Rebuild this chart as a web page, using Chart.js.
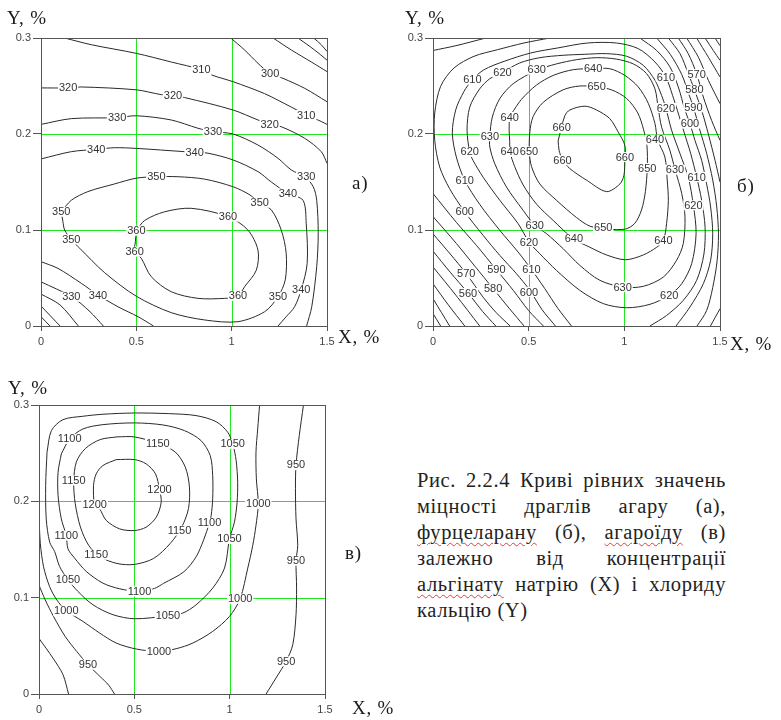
<!DOCTYPE html>
<html><head><meta charset="utf-8">
<script src="https://cdn.jsdelivr.net/npm/chart.js@4.4.1/dist/chart.umd.min.js"></script>
<style>
html,body{margin:0;padding:0;background:#fff;width:781px;height:720px;overflow:hidden;}
canvas{position:absolute;}
.t{position:absolute;font-family:"Liberation Serif","Times New Roman",serif;font-size:19px;line-height:19px;color:#1a1a1a;white-space:nowrap;letter-spacing:0.8px;}
#cap{position:absolute;left:417px;top:467px;width:309px;font-family:"Liberation Serif","Times New Roman",serif;font-size:20.5px;line-height:26px;color:#222;letter-spacing:0.6px;}
#cap .j{text-align:justify;text-align-last:justify;white-space:nowrap;}
.sp{text-decoration:underline wavy #e04040;text-decoration-thickness:1px;text-underline-offset:3px;}
</style></head><body>
<canvas id="ca" width="390" height="350" style="left:0;top:0;width:390px;height:350px"></canvas>
<canvas id="cb" width="391" height="350" style="left:390px;top:0;width:391px;height:350px"></canvas>
<canvas id="cc" width="390" height="350" style="left:0;top:370px;width:390px;height:350px"></canvas>

<div class="t" style="left:7px;top:8px">Y, %</div>
<div class="t" style="left:338px;top:327px">X, %</div>
<div class="t" style="left:352px;top:173px">а)</div>
<div class="t" style="left:405px;top:8px">Y, %</div>
<div class="t" style="left:730px;top:334px">X, %</div>
<div class="t" style="left:737px;top:176px">б)</div>
<div class="t" style="left:8px;top:378px">Y, %</div>
<div class="t" style="left:352px;top:698px">X, %</div>
<div class="t" style="left:345px;top:543px">в)</div>

<div id="cap">
<div class="j">Рис. 2.2.4 Криві рівних значень</div>
<div class="j">міцності драглів агару (а),</div>
<div class="j"><span class="sp">фурцеларану</span> (б), <span class="sp">агароїду</span> (в)</div>
<div class="j">залежно від концентрації</div>
<div class="j"><span class="sp">альгінату</span> натрію (Х) і хлориду</div>
<div>кальцію (Y)</div>
</div>

<script>
// ---- axes ----
const xTicks=[0,0.5,1,1.5];
const xTickLabels=['0','0.5','1','1.5'];
const yTicks=[0,0.1,0.2,0.3];
const yTickLabels=['0','0.1','0.2','0.3'];

// ---- chart а (agar) contour lines: [X, Y] ----
const a270=[[1.43,.300],[1.47,.293],[1.50,.286]];
const a280=[[1.348,.300],[1.435,.2875],[1.50,.277]];
const a290=[[1.217,.300],[1.313,.2875],[1.418,.275],[1.50,.265]];
const a300=[[0.995,.300],[1.068,.2875],[1.138,.2736],[1.202,.263],[1.269,.258],[1.383,.2476],[1.50,.2336]];
const a310=[[0.124,.300],[0.264,.293],[0.50,.284],[0.683,.275],[0.841,.267],[0.902,.261],[1.007,.2545],[1.173,.242],[1.313,.228],[1.391,.220],[1.47,.213],[1.50,.210]];
const a320=[[0,.248],[0.142,.248],[0.211,.249],[0.50,.246],[0.631,.241],[0.692,.240],[0.753,.238],[1.007,.225],[1.138,.2146],[1.199,.210],[1.26,.2076],[1.383,.1955],[1.47,.1816],[1.50,.1695]];
const a330=[[0,.210],[0.159,.216],[0.40,.217],[0.50,.219],[0.683,.2146],[0.823,.206],[0.902,.2024],[1.007,.200],[1.138,.1885],[1.243,.1747],[1.313,.1625],[1.384,.1555],[1.428,.145],[1.446,.131],[1.454,.0965],[1.446,.0618],[1.42,.020],[1.393,0]];
const a340=[[0,.174],[0.159,.1816],[0.29,.184],[0.386,.1857],[0.50,.185],[0.753,.1816],[0.806,.181],[0.876,.180],[1.007,.173],[1.138,.1608],[1.208,.150],[1.295,.138],[1.374,.131],[1.391,.107],[1.396,.065],[1.365,.038],[1.33,.020],[1.286,.0097],[1.243,0]];
const a350=[[0.106,.119],[0.159,.131],[0.246,.140],[0.386,.148],[0.50,.154],[0.605,.1555],[0.718,.1555],[0.858,.153],[1.008,.145],[1.096,.1365],[1.147,.128],[1.208,.121],[1.26,.100],[1.286,.0757],[1.281,.048],[1.243,.0305],[1.173,.0149],[1.033,.0045],[0.858,.0063],[0.683,.0139],[0.50,.031],[0.334,.0555],[0.203,.081],[0.159,.090],[0.124,.100],[0.115,.1086],[0.106,.119]];
const a360=[[0.50,.0993],[0.544,.110],[0.649,.119],[0.788,.1226],[0.981,.1139],[1.085,.100],[1.138,.079],[1.129,.058],[1.068,.041],[1.033,.031],[0.963,.0288],[0.823,.0288],[0.683,.0357],[0.578,.0514],[0.526,.0705],[0.491,.0774],[0.495,.0878],[0.50,.0993]];
const a340b=[[0,.067],[0.089,.060],[0.211,.0445],[0.299,.0323],[0.404,.020],[0.509,.0097],[0.59,0]];
const a330b=[[0,.046],[0.161,.0305],[0.257,.0149],[0.327,0]];
const a320b=[[0,.0333],[0.10,.0219],[0.196,0]];
const a310b=[[0,.0208],[0.10,0]];
const a300b=[[0,.0097],[0.047,0]];
const aLabels=[[.841,.2667,'310'],[1.202,.2632,'300'],[.142,.2482,'320'],[.692,.2399,'320'],[1.391,.2198,'310'],[.399,.2174,'330'],[1.199,.2101,'320'],[.902,.2024,'330'],[.29,.184,'340'],[.806,.1809,'340'],[1.391,.1555,'330'],[.605,.1555,'350'],[.106,.119,'350'],[1.295,.1382,'340'],[1.147,.1284,'350'],[.981,.1139,'360'],[.50,.0993,'360'],[.159,.0903,'350'],[.491,.0774,'360'],[1.365,.0382,'340'],[.159,.0305,'330'],[.299,.0323,'340'],[1.033,.0313,'360'],[1.243,.0305,'350']];

// ---- chart б (furcellaran) contour lines ----
const b590tl=[[0,.287],[0.12,.292],[0.276,.300]];
const b600=[[0.610,.300],[0.476,.2948],[0.337,.2878],[0.215,.281],[0.110,.2688],[0.040,.2497],[0.009,.2219],[0.009,.1934],[0.035,.1656],[0.087,.143],[0.166,.1188],[0.262,.0944],[0.349,.0736],[0.436,.0545],[0.506,.0372],[0.57,.017],[0.64,0]];
const b610=[[0.724,0],[0.654,.018],[0.584,.039],[0.515,.0587],[0.445,.077],[0.349,.0997],[0.244,.1267],[0.166,.1517],[0.122,.176],[0.101,.201],[0.119,.2253],[0.162,.2444],[0.206,.2566],[0.267,.267],[0.372,.2757],[0.511,.2844],[0.651,.2896],[0.808,.2948],[0.959,.2948],[1.073,.2889],[1.160,.275],[1.217,.2594],[1.252,.2403],[1.277,.2247],[1.312,.202],[1.347,.1795],[1.378,.1552],[1.404,.131],[1.422,.103],[1.416,.075],[1.378,.0476],[1.308,.0267],[1.221,.011],[1.134,0]];
const b620=[[0.363,.264],[0.453,.274],[0.558,.2795],[0.680,.282],[0.790,.283],[0.907,.2837],[1.012,.281],[1.099,.2715],[1.160,.256],[1.195,.240],[1.217,.227],[1.247,.204],[1.291,.1795],[1.334,.155],[1.361,.1257],[1.375,.0962],[1.352,.065],[1.30,.044],[1.235,.032],[1.134,.0226],[1.012,.019],[0.890,.0233],[0.767,.0372],[0.645,.058],[0.558,.0753],[0.502,.0875],[0.445,.1066],[0.349,.131],[0.262,.155],[0.209,.1726],[0.192,.181],[0.178,.204],[0.192,.228],[0.244,.247],[0.297,.2576],[0.363,.264]];
const b630=[[0.542,.267],[0.645,.273],[0.750,.2774],[0.855,.2795],[0.959,.278],[1.047,.273],[1.116,.263],[1.160,.247],[1.177,.227],[1.195,.207],[1.238,.183],[1.265,.163],[1.30,.138],[1.317,.1135],[1.308,.0858],[1.273,.0684],[1.204,.051],[1.099,.0413],[0.991,.0406],[0.872,.0476],[0.767,.0632],[0.680,.0806],[0.593,.0962],[0.532,.1049],[0.471,.1205],[0.384,.1448],[0.323,.169],[0.297,.1865],[0.297,.198],[0.310,.2177],[0.349,.2368],[0.419,.2524],[0.542,.267]];
const b640=[[0.401,.181],[0.427,.166],[0.471,.147],[0.541,.127],[0.628,.110],[0.733,.091],[0.820,.082],[0.907,.074],[1.006,.069],[1.099,.074],[1.169,.082],[1.204,.089],[1.221,.107],[1.230,.131],[1.224,.152],[1.212,.176],[1.174,.194],[1.160,.211],[1.125,.232],[1.073,.249],[1.003,.261],[0.924,.268],[0.837,.268],[0.733,.267],[0.628,.261],[0.541,.251],[0.462,.236],[0.410,.221],[0.401,.218],[0.398,.204],[0.401,.192],[0.401,.181]];
const b650=[[0.502,.181],[0.506,.202],[0.523,.218],[0.576,.233],[0.680,.246],[0.767,.250],[0.855,.249],[0.933,.246],[1.012,.237],[1.07,.222],[1.10,.205],[1.118,.188],[1.12,.165],[1.11,.140],[1.09,.121],[1.055,.107],[1.006,.101],[0.907,.101],[0.820,.104],[0.750,.113],[0.645,.131],[0.558,.148],[0.515,.166],[0.502,.181]];
const b660=[[0.654,.193],[0.689,.219],[0.715,.225],[0.794,.229],[0.855,.225],[0.924,.216],[0.968,.202],[1.003,.188],[1.003,.174],[0.998,.157],[0.977,.148],[0.907,.140],[0.802,.152],[0.715,.164],[0.677,.173],[0.659,.183],[0.654,.193]];
const b600r=[[1.081,.300],[1.169,.287],[1.238,.270],[1.282,.249],[1.317,.2247],[1.343,.2108],[1.369,.1934],[1.404,.1726],[1.430,.148],[1.451,.124],[1.462,.0962],[1.451,.0684],[1.413,.0441],[1.343,.0198],[1.27,0]];
const b590r=[[1.169,.300],[1.24,.283],[1.30,.262],[1.336,.242],[1.361,.228],[1.395,.204],[1.430,.180],[1.462,.152],[1.483,.124],[1.492,.096],[1.485,.068],[1.462,.040],[1.43,.016],[1.38,0]];
const b580r=[[1.230,.300],[1.291,.2837],[1.334,.263],[1.366,.2462],[1.404,.2247],[1.439,.200],[1.474,.1726],[1.50,.150]];
const b580br=[[1.45,0],[1.50,.018]];
const b570r=[[1.282,.300],[1.334,.2837],[1.378,.2625],[1.413,.2385],[1.456,.2142],[1.50,.1934]];
const b560r=[[1.326,.300],[1.387,.280],[1.439,.256],[1.50,.2316]];
const b550r=[[1.378,.300],[1.439,.280],[1.50,.2594]];
const b540r=[[1.422,.300],[1.465,.287],[1.50,.2767]];
const b530r=[[1.474,.300],[1.50,.292]];
const b590ll=[[0,.138],[0.122,.108],[0.227,.084],[0.331,.0587],[0.42,.037],[0.50,.016],[0.577,0]];
const b580ll=[[0,.114],[0.122,.086],[0.22,.062],[0.314,.039],[0.40,.018],[0.476,0]];
const b570ll=[[0,.096],[0.09,.075],[0.174,.0545],[0.262,.030],[0.33,.014],[0.403,0]];
const b560ll=[[0,.078],[0.09,.056],[0.183,.0344],[0.26,.015],[0.328,0]];
const b550ll=[[0,.0615],[0.12,.032],[0.244,0]];
const b540ll=[[0,.044],[0.08,.022],[0.166,0]];
const b530ll=[[0,.0285],[0.087,0]];
const b520ll=[[0,.013],[0.04,0]];
const bLabels=[[.206,.2566,'610'],[.363,.2642,'620'],[.542,.267,'630'],[.837,.268,'640'],[.855,.2497,'650'],[1.217,.2594,'610'],[1.378,.2625,'570'],[1.366,.2462,'580'],[1.217,.2271,'620'],[1.361,.2278,'590'],[1.343,.2108,'600'],[.401,.2177,'640'],[.672,.2063,'660'],[.297,.1979,'630'],[1.160,.1941,'640'],[.192,.1813,'620'],[.401,.1813,'640'],[.502,.1819,'650'],[.677,.1726,'660'],[1.003,.176,'660'],[1.12,.1646,'650'],[1.265,.1628,'630'],[1.378,.1552,'610'],[.166,.1517,'610'],[1.361,.1257,'620'],[.166,.1188,'600'],[.532,.1049,'630'],[.890,.1024,'650'],[.502,.0875,'620'],[.736,.091,'640'],[1.204,.0892,'640'],[.174,.0545,'570'],[.331,.0587,'590'],[.515,.0587,'610'],[.183,.0344,'560'],[.314,.0389,'580'],[.502,.0354,'600'],[.991,.0406,'630'],[1.235,.0319,'620']];

// ---- chart в (agaroid) contour lines ----
const c1200=[[0.405,.2433],[0.501,.2433],[0.562,.2389],[0.611,.2285],[0.632,.2122],[0.641,.1991],[0.615,.1835],[0.562,.1732],[0.501,.1697],[0.423,.1714],[0.353,.1801],[0.318,.1922],[0.292,.1967],[0.286,.2164],[0.300,.2285],[0.335,.2371],[0.405,.2433]];
const c1150=[[0.409,.2669],[0.499,.2669],[0.618,.2606],[0.714,.2513],[0.767,.2357],[0.789,.215],[0.784,.1925],[0.749,.1735],[0.688,.1562],[0.601,.1407],[0.499,.1345],[0.409,.1355],[0.321,.1424],[0.260,.1545],[0.217,.1735],[0.190,.1977],[0.182,.2202],[0.196,.2409],[0.243,.2548],[0.321,.2641],[0.409,.2669]];
const c1100=[[0.117,.2492],[0.161,.2648],[0.230,.2751],[0.335,.2796],[0.501,.2814],[0.650,.2793],[0.763,.2734],[0.850,.2630],[0.898,.2475],[0.911,.2268],[0.911,.2026],[0.903,.1853],[0.894,.1777],[0.863,.1597],[0.824,.1424],[0.760,.1269],[0.653,.1148],[0.606,.1096],[0.527,.1065],[0.423,.1092],[0.335,.1151],[0.248,.1272],[0.187,.141],[0.152,.1507],[0.143,.1645],[0.117,.1818],[0.100,.206],[0.100,.2302],[0.117,.2492]];
const c1050=[[0.042,.251],[0.065,.2734],[0.126,.2848],[0.230,.2883],[0.335,.2904],[0.501,.2917],[0.684,.291],[0.824,.289],[0.929,.2827],[0.990,.2717],[1.016,.2596],[1.034,.2423],[1.042,.2198],[1.039,.1991],[1.025,.1784],[0.999,.161],[0.973,.1307],[0.911,.1099],[0.824,.0926],[0.754,.084],[0.676,.0812],[0.501,.0781],[0.388,.0823],[0.283,.0926],[0.204,.1065],[0.152,.1186],[0.108,.1324],[0.082,.1479],[0.056,.1576],[0.038,.1818],[0.035,.2164],[0.042,.251]];
const c1000=[[1.157,.300],[1.147,.2751],[1.138,.251],[1.140,.2233],[1.150,.1974],[1.138,.1749],[1.121,.1542],[1.095,.1307],[1.055,.0989],[0.999,.0805],[0.911,.065],[0.807,.0529],[0.719,.047],[0.629,.0442],[0.510,.0467],[0.405,.0529],[0.318,.0633],[0.230,.0754],[0.143,.0864],[0.094,.0975],[0.056,.1113],[0.024,.132],[0.007,.156],[0,.185]];
const c950r=[[1.387,.300],[1.365,.2682],[1.348,.2378],[1.345,.213],[1.348,.1818],[1.357,.1542],[1.348,.1383],[1.351,.1099],[1.348,.0823],[1.331,.0512],[1.296,.0339],[1.243,.0166],[1.191,0]];
const c950l=[[0,.113],[0.033,.0975],[0.077,.0802],[0.138,.0595],[0.199,.0439],[0.257,.0304],[0.321,.018],[0.365,.0093],[0.396,0]];
const c900=[[0,.0577],[0.073,.0373],[0.126,.020],[0.155,0]];
const cLabels=[[.161,.2648,'1100'],[.623,.2596,'1150'],[1.016,.2596,'1050'],[1.348,.2378,'950'],[.182,.2216,'1150'],[.632,.2122,'1200'],[.292,.1967,'1200'],[1.150,.1974,'1000'],[.737,.1697,'1150'],[.894,.1777,'1100'],[.143,.1645,'1100'],[.999,.161,'1050'],[.300,.1445,'1150'],[1.348,.1383,'950'],[.152,.1186,'1050'],[.527,.1065,'1100'],[1.055,.0989,'1000'],[.143,.0864,'1000'],[.676,.0812,'1050'],[.629,.0442,'1000'],[.257,.0304,'950'],[1.296,.0339,'950']];

const aLines=[a270,a280,a290,a300,a310,a320,a330,a340,a350,a360,a340b,a330b,a320b,a310b,a300b];
const bLines=[b590tl,b600,b610,b620,b630,b640,b650,b660,b600r,b590r,b580r,b580br,b570r,b560r,b550r,b540r,b530r,b590ll,b580ll,b570ll,b560ll,b550ll,b540ll,b530ll,b520ll];
const cLines=[c1200,c1150,c1100,c1050,c1000,c950r,c950l,c900];

const GREEN='#22e622';
const TICKFONT={family:'"Liberation Sans", Arial, sans-serif',size:11};

const contourPlugin={
  id:'contourLabels',
  beforeDatasetsDraw(chart){
    const ctx=chart.ctx,xs=chart.scales.x,ys=chart.scales.y,a=chart.chartArea;
    ctx.save();ctx.strokeStyle=GREEN;ctx.lineWidth=1;
    ctx.beginPath();
    for(const v of xTicks){
      if(v<=xs.min||v>=xs.max)continue;
      const p=Math.round(xs.getPixelForValue(v))+0.5;
      ctx.moveTo(p,a.top);ctx.lineTo(p,a.bottom);
    }
    for(const v of yTicks){
      if(v<=ys.min||v>=ys.max)continue;
      const p=Math.round(ys.getPixelForValue(v))+0.5;
      ctx.moveTo(a.left,p);ctx.lineTo(a.right,p);
    }
    ctx.stroke();ctx.restore();
  },
  afterDatasetsDraw(chart,args,opts){
    const ctx=chart.ctx,xs=chart.scales.x,ys=chart.scales.y;
    ctx.save();
    ctx.font='11px "Liberation Sans", Arial, sans-serif';
    ctx.textAlign='center';ctx.textBaseline='middle';
    for(const l of opts.items){
      const px=xs.getPixelForValue(l[0]),py=ys.getPixelForValue(l[1]);
      const w=ctx.measureText(l[2]).width;
      ctx.fillStyle='#fff';
      ctx.fillRect(px-w/2-1,py-5,w+2,10);
      ctx.fillStyle='#333';
      ctx.fillText(l[2],px,py+0.5);
    }
    ctx.restore();
  },
  afterDraw(chart){
    const a=chart.chartArea,ctx=chart.ctx;
    ctx.save();ctx.strokeStyle='#555';ctx.lineWidth=1;
    ctx.strokeRect(a.left+0.5,a.top+0.5,a.right-a.left,a.bottom-a.top);
    ctx.restore();
  }
};

function pts(arr){return arr.map(p=>({x:p[0],y:p[1]}));}

function makeChart(id,lines,labels,pad,yw,xh){
  new Chart(document.getElementById(id),{
    type:'scatter',
    data:{datasets:lines.map(l=>({data:pts(l),showLine:true,borderColor:'#2a2a2a',borderWidth:1,pointRadius:0,tension:0.3,fill:false}))},
    options:{
      responsive:false,animation:false,events:[],
      layout:{padding:pad,autoPadding:false},
      plugins:{legend:{display:false},tooltip:{enabled:false},contourLabels:{items:labels}},
      scales:{
        x:{type:'linear',min:0,max:1.5,
          afterBuildTicks:s=>{s.ticks=xTicks.map(v=>({value:v}));},
          afterFit:s=>{s.height=xh;},
          ticks:{callback:(v,i)=>xTickLabels[i],font:TICKFONT,color:'#444',padding:4,maxRotation:0,autoSkip:false},
          grid:{drawOnChartArea:false,color:'#555',tickColor:'#555',tickLength:5,lineWidth:1},
          border:{display:false}},
        y:{type:'linear',min:0,max:0.3,
          afterBuildTicks:s=>{s.ticks=yTicks.map(v=>({value:v}));},
          afterFit:s=>{s.width=yw;},
          ticks:{callback:(v,i)=>yTickLabels[i],font:TICKFONT,color:'#444',padding:2,autoSkip:false},
          grid:{drawOnChartArea:false,color:'#555',tickColor:'#555',tickLength:8,lineWidth:1},
          border:{display:false}}
      }
    },
    plugins:[contourPlugin]
  });
}

makeChart('ca',aLines,aLabels,{left:0,top:38,right:63,bottom:0},41,24);
makeChart('cb',bLines,bLabels,{left:0,top:38,right:61,bottom:0},43,24);
makeChart('cc',cLines,cLabels,{left:0,top:35,right:65,bottom:0},39,26);
</script>
</body></html>
